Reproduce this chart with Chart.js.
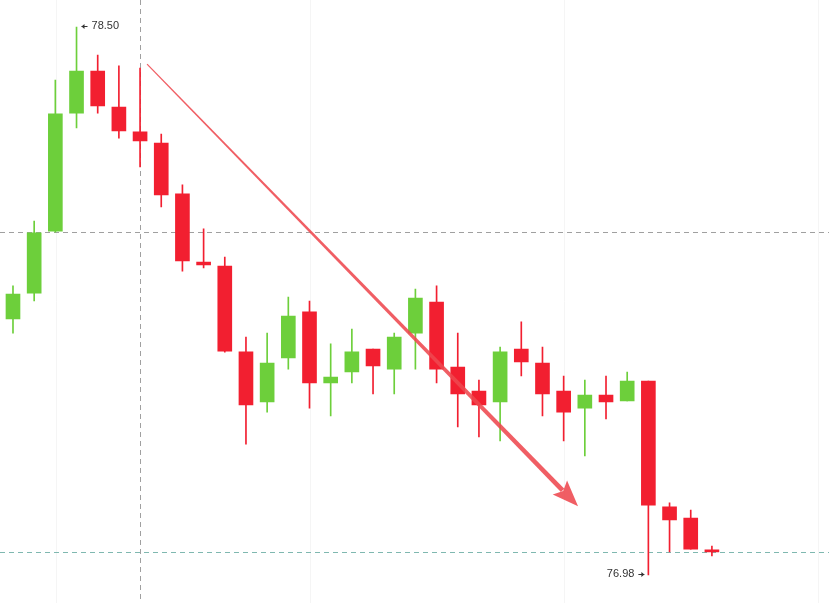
<!DOCTYPE html>
<html>
<head>
<meta charset="utf-8">
<script src="https://cdn.jsdelivr.net/npm/chart.js@4.4.1/dist/chart.umd.min.js"></script>
<style>
  html, body { margin: 0; padding: 0; background: #ffffff; }
  #wrap { width: 829px; height: 603px; position: relative; }
</style>
</head>
<body>
<div id="wrap"><canvas id="c" width="829" height="603"></canvas></div>
<script>
// ---- data ----
const labels = ['1','2','3','4','5','6','7','8','9','10','11','12','13','14','15','16','17',
                '18','19','20','21','22','23','24','25','26','27','28','29','30','31','32','33','34'];
const opens  = [77.690,77.762,77.934,78.261,78.378,78.278,78.209,78.178,78.037,77.848,77.837,77.599,77.460,77.582,77.710,77.513,77.543,
                77.607,77.551,77.651,77.737,77.557,77.490,77.460,77.607,77.568,77.490,77.443,77.479,77.463,77.518,77.169,77.138,77.049];
const highs  = [77.782,77.962,78.353,78.500,78.422,78.392,78.386,78.203,78.062,77.940,77.862,77.640,77.651,77.751,77.740,77.621,77.662,
                77.607,77.651,77.773,77.782,77.651,77.521,77.612,77.682,77.612,77.532,77.521,77.532,77.543,77.518,77.180,77.160,77.060];
const lows   = [77.651,77.740,77.931,78.220,78.261,78.192,78.112,78.001,77.823,77.832,77.598,77.343,77.432,77.551,77.443,77.421,77.513,
                77.482,77.482,77.551,77.513,77.391,77.363,77.352,77.532,77.421,77.352,77.310,77.413,77.463,76.980,77.044,77.052,77.033];
const closes = [77.759,77.929,78.259,78.378,78.281,78.212,78.184,78.034,77.851,77.840,77.601,77.452,77.568,77.698,77.513,77.529,77.599,
                77.560,77.640,77.748,77.551,77.482,77.452,77.599,77.571,77.482,77.432,77.479,77.460,77.518,77.174,77.133,77.052,77.044];

// reference levels & annotations (in data coordinates)
const grayLevel = 77.931;
const tealLevel = 77.044;
const crossIndex = 6;                 // vertical dashed line at candle 7
const arrowFrom = [6.33, 78.397];
const arrowTo   = [26.68, 77.171];
const maxLabel = { index: 3, value: 78.50, text: '78.50' };
const minLabel = { index: 30, value: 76.98, text: '76.98' };

const UP = '#6dcf3b', DOWN = '#f21f30';
const colors = opens.map((o, i) => closes[i] >= o ? UP : DOWN);

const overlay = {
  id: 'overlay',
  beforeDatasetsDraw(chart) {
    const { ctx, scales: { x, y } } = chart;
    ctx.save();
    // faint vertical grid lines
    ctx.strokeStyle = '#f5f5f5';
    ctx.lineWidth = 1;
    [56, 310, 564, 818].forEach(px => {
      ctx.beginPath(); ctx.moveTo(px + 0.5, 0); ctx.lineTo(px + 0.5, 603); ctx.stroke();
    });
    // dashed gray horizontal level
    ctx.setLineDash([5, 4]);
    ctx.strokeStyle = '#a0a0a0';
    let py = Math.round(y.getPixelForValue(grayLevel)) + 0.5;
    ctx.beginPath(); ctx.moveTo(0, py); ctx.lineTo(829, py); ctx.stroke();
    // dashed teal horizontal level
    ctx.strokeStyle = '#7fb8b0';
    py = Math.round(y.getPixelForValue(tealLevel)) + 0.5;
    ctx.beginPath(); ctx.moveTo(0, py); ctx.lineTo(829, py); ctx.stroke();
    // vertical dashed crosshair
    ctx.strokeStyle = '#a0a0a0';
    const px = Math.round(x.getPixelForValue(crossIndex)) + 0.5;
    ctx.beginPath(); ctx.moveTo(px, 0); ctx.lineTo(px, 603); ctx.stroke();
    ctx.restore();
  },
  afterDatasetsDraw(chart) {
    const { ctx, scales: { x, y } } = chart;
    ctx.save();
    // trend arrow
    const x0 = x.getPixelForValue(arrowFrom[0]), y0 = y.getPixelForValue(arrowFrom[1]);
    const x1 = x.getPixelForValue(arrowTo[0]),   y1 = y.getPixelForValue(arrowTo[1]);
    const ang = Math.atan2(y1 - y0, x1 - x0);
    const ux = Math.cos(ang), uy = Math.sin(ang);
    const nx = -uy, ny = ux;
    const headLen = 26, headHalf = 10;
    const bx = x1 - ux * headLen * 0.85, by = y1 - uy * headLen * 0.85;
    ctx.fillStyle = 'rgba(238,72,78,0.88)';
    ctx.beginPath();
    ctx.moveTo(x0 + nx * 0.6, y0 + ny * 0.6);
    ctx.lineTo(bx + nx * 2.4, by + ny * 2.4);
    ctx.lineTo(bx - nx * 2.4, by - ny * 2.4);
    ctx.lineTo(x0 - nx * 0.6, y0 - ny * 0.6);
    ctx.closePath();
    ctx.fill();
    // head
    const hx = x1 - ux * headLen, hy = y1 - uy * headLen;
    ctx.beginPath();
    ctx.moveTo(x1, y1);
    ctx.lineTo(hx + nx * headHalf, hy + ny * headHalf);
    ctx.lineTo(x1 - ux * headLen * 0.82, y1 - uy * headLen * 0.82);
    ctx.lineTo(hx - nx * headHalf, hy - ny * headHalf);
    ctx.closePath();
    ctx.fill();

    // price labels
    ctx.fillStyle = '#333333';
    ctx.strokeStyle = '#333333';
    ctx.font = '11px "Liberation Sans", Arial, sans-serif';
    ctx.textBaseline = 'middle';
    // max label: "← 78.50"
    let lx = x.getPixelForValue(maxLabel.index) + 5;
    let ly = Math.round(y.getPixelForValue(maxLabel.value)) - 1;
    ctx.lineWidth = 1;
    ctx.beginPath(); ctx.moveTo(lx, ly + 0.5); ctx.lineTo(lx + 6, ly + 0.5); ctx.stroke();
    ctx.beginPath(); ctx.moveTo(lx, ly + 0.5); ctx.lineTo(lx + 3, ly - 2); ctx.lineTo(lx + 3, ly + 3); ctx.closePath(); ctx.fill();
    ctx.textAlign = 'left';
    ctx.fillText(maxLabel.text, lx + 10, ly);
    // min label: "76.98 →"
    lx = x.getPixelForValue(minLabel.index) - 4;
    ly = Math.round(y.getPixelForValue(minLabel.value)) - 1;
    ctx.beginPath(); ctx.moveTo(lx - 6, ly + 0.5); ctx.lineTo(lx, ly + 0.5); ctx.stroke();
    ctx.beginPath(); ctx.moveTo(lx, ly + 0.5); ctx.lineTo(lx - 3, ly - 2); ctx.lineTo(lx - 3, ly + 3); ctx.closePath(); ctx.fill();
    ctx.textAlign = 'right';
    ctx.fillText(minLabel.text, lx - 10, ly);
    ctx.restore();
  }
};

new Chart(document.getElementById('c'), {
  type: 'bar',
  data: {
    labels: labels,
    datasets: [
      {
        label: 'body',
        data: opens.map((o, i) => [o, closes[i]]),
        backgroundColor: colors,
        borderWidth: 0,
        borderSkipped: false,
        barThickness: 14,
        grouped: false,
        minBarLength: 2
      },
      {
        label: 'wick',
        data: lows.map((l, i) => [l, highs[i]]),
        backgroundColor: colors,
        borderWidth: 0,
        borderSkipped: false,
        barThickness: 1,
        grouped: false
      }
    ]
  },
  options: {
    responsive: false,
    animation: false,
    events: [],
    layout: { padding: { left: 2.4, right: 106.5, top: 0, bottom: 0 } },
    plugins: { legend: { display: false }, tooltip: { enabled: false } },
    scales: {
      x: { display: false, offset: true, grid: { display: false } },
      y: { display: false, min: 76.9024, max: 78.5749, grid: { display: false } }
    }
  },
  plugins: [overlay]
});
</script>
</body>
</html>
